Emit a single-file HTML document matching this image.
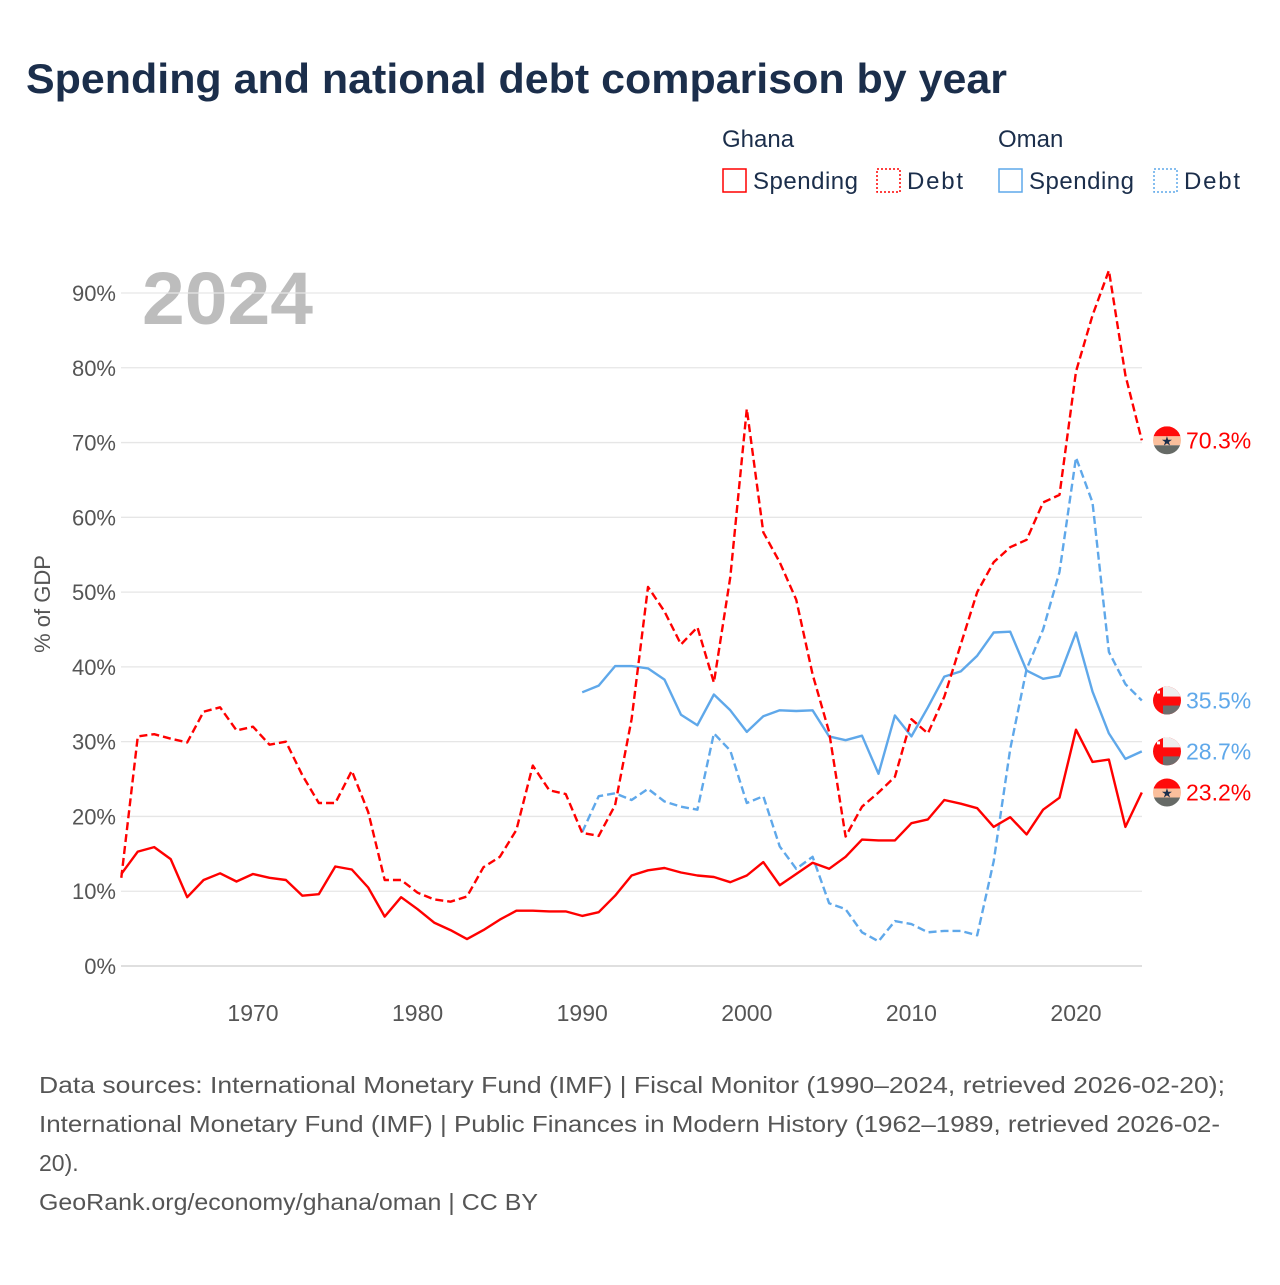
<!DOCTYPE html>
<html><head><meta charset="utf-8"><style>
body{margin:0;background:#fff;width:1280px;height:1280px;overflow:hidden;font-family:"Liberation Sans",sans-serif}
svg text{font-family:"Liberation Sans",sans-serif}
</style></head><body>
<svg id="c" width="1280" height="1280">
<text x="26" y="93" font-size="42" font-weight="bold" fill="#1b2e4b" textLength="981" lengthAdjust="spacingAndGlyphs">Spending and national debt comparison by year</text>
<g font-size="24" fill="#1b2e4b">
<text x="722" y="147">Ghana</text>
<text x="998" y="147">Oman</text>
<g><rect x="723" y="169" width="23" height="23" fill="none" stroke="#ff0000" stroke-width="1.5"/><text x="753" y="189" textLength="105">Spending</text></g>
<g><rect x="877" y="169" width="23" height="23" fill="none" stroke="#ff0000" stroke-width="1.5" stroke-dasharray="2,2"/><text x="907" y="189" textLength="56">Debt</text></g>
<g><rect x="999" y="169" width="23" height="23" fill="none" stroke="#5fa8ea" stroke-width="1.5"/><text x="1029" y="189" textLength="105">Spending</text></g>
<g><rect x="1154" y="169" width="23" height="23" fill="none" stroke="#5fa8ea" stroke-width="1.5" stroke-dasharray="2,2"/><text x="1184" y="189" textLength="56">Debt</text></g>
</g>
<text x="142" y="324" font-size="74" font-weight="bold" fill="#bdbdbd" textLength="171" lengthAdjust="spacingAndGlyphs">2024</text>
<text transform="translate(50,604) rotate(-90)" text-anchor="middle" font-size="22" fill="#555">% of GDP</text>
<g id="grid"></g><g id="series"></g><g id="labels"></g>
<g font-size="23" fill="#555">
<text x="39" y="1093" textLength="1186" lengthAdjust="spacingAndGlyphs">Data sources: International Monetary Fund (IMF) | Fiscal Monitor (1990–2024, retrieved 2026-02-20);</text>
<text x="39" y="1132" textLength="1181" lengthAdjust="spacingAndGlyphs">International Monetary Fund (IMF) | Public Finances in Modern History (1962–1989, retrieved 2026-02-</text>
<text x="39" y="1171">20).</text>
<text x="39" y="1210" textLength="499" lengthAdjust="spacingAndGlyphs">GeoRank.org/economy/ghana/oman | CC BY</text>
</g>
</svg>
<script>
const ghanaYears0=1962, omanYears0=1990;
const ghanaSpending=[12.3,15.3,15.9,14.3,9.2,11.5,12.4,11.3,12.3,11.8,11.5,9.4,9.6,13.3,12.9,10.5,6.6,9.2,7.6,5.8,4.8,3.6,4.8,6.2,7.4,7.4,7.3,7.3,6.7,7.2,9.4,12.1,12.8,13.1,12.5,12.1,11.9,11.2,12.1,13.9,10.8,12.3,13.8,13.0,14.6,16.9,16.8,16.8,19.1,19.6,22.2,21.7,21.1,18.6,19.9,17.6,20.9,22.5,31.6,27.3,27.6,18.6,23.2];
const ghanaDebt=[11.8,30.7,31.0,30.4,29.9,34.0,34.6,31.5,32.0,29.6,30.0,25.5,21.8,21.8,26.1,20.6,11.5,11.5,9.8,8.9,8.6,9.3,13.2,14.6,18.2,26.8,23.5,23.0,17.8,17.4,21.5,33,50.7,47.4,43,45.3,37.9,52,74.5,58,54,49,39,31.3,17.3,21.3,23.2,25.3,33,31.1,36,43,50,54,56,57,62,63,79.5,87,93,79,70.3];
const omanSpending=[36.6,37.5,40.1,40.1,39.8,38.3,33.6,32.2,36.3,34.2,31.3,33.4,34.2,34.1,34.2,30.7,30.2,30.8,25.7,33.5,30.7,34.6,38.7,39.4,41.5,44.6,44.7,39.5,38.4,38.8,44.6,36.7,31.1,27.7,28.7];
const omanDebt=[17.9,22.7,23.1,22.2,23.7,22,21.3,20.9,31.1,28.8,21.8,22.7,16,13,14.6,8.4,7.6,4.5,3.3,6.0,5.6,4.5,4.7,4.7,4.1,14,29,39.7,45,52.7,68,62,42,37.7,35.5];
const yTicks=[0,10,20,30,40,50,60,70,80,90];
const xTicks=[1970,1980,1990,2000,2010,2020];
const NS="http://www.w3.org/2000/svg";
const X=y=>253+(y-1970)*16.46, Y=v=>966-v*7.478;
function mk(t,a,p){const e=document.createElementNS(NS,t);for(const k in a)e.setAttribute(k,a[k]);p.appendChild(e);return e;}
const grid=document.getElementById('grid');
yTicks.forEach(v=>{
 const l=mk('line',{x1:121,x2:1142,y1:Y(v),y2:Y(v),stroke:v==0?'#ccc':'#e6e6e6','stroke-width':1.3},grid);
 
 
 const t=mk('text',{x:116,y:Y(v)+8,'text-anchor':'end','font-size':22,fill:'#555'},grid);t.textContent=v+'%';
 
 
});
xTicks.forEach(y=>{
 const t=mk('text',{x:X(y),y:1021,'text-anchor':'middle','font-size':23,fill:'#555'},grid);t.textContent=y;
 
 
});
const ser=document.getElementById('series');
function line(data,y0,color,dash,name){
 const pts=data.map((v,i)=>X(y0+i).toFixed(1)+','+Y(v).toFixed(1)).join(' ');
 const p=mk('polyline',{points:pts,fill:'none',stroke:color,'stroke-width':2.4,'stroke-linejoin':'round'},ser);
 if(dash)p.setAttribute('stroke-dasharray','8,4');
 
 
}
line(omanSpending,omanYears0,'#5fa8ea',false,'oman-spending-line');
line(omanDebt,omanYears0,'#5fa8ea',true,'oman-debt-line');
line(ghanaSpending,ghanaYears0,'#ff0000',false,'ghana-spending-line');
line(ghanaDebt,ghanaYears0,'#ff0000',true,'ghana-debt-line');
const lab=document.getElementById('labels');
const defs=mk('defs',{},lab);
const cp=mk('clipPath',{id:'cc'},defs);mk('circle',{cx:0,cy:0,r:14},cp);
function flag(kind,v,color,name){
 const cy=Y(v),g=mk('g',{transform:`translate(1167,${cy})`},lab);
 
 
 const c=mk('g',{'clip-path':'url(#cc)'},g);
 if(kind=='gh'){
  mk('rect',{x:-14,y:-14,width:28,height:10,fill:'#ff0a0a'},c);
  mk('rect',{x:-14,y:-4,width:28,height:9,fill:'#fbbf9c'},c);
  mk('rect',{x:-14,y:5,width:28,height:10,fill:'#666a66'},c);
  const s=mk('text',{x:0,y:5,'text-anchor':'middle','font-size':13,fill:'#1b2e4b'},c);s.textContent='★';
 }else{
  mk('rect',{x:-14,y:-14,width:28,height:28,fill:'#ff0a0a'},c);
  mk('rect',{x:-4,y:-14,width:18,height:10,fill:'#eeeeee'},c);
  mk('rect',{x:-4,y:5,width:18,height:10,fill:'#6e6e6e'},c);
  mk('rect',{x:-10,y:-10,width:3,height:3,fill:'#fff'},c);
 }
 const t=mk('text',{x:1186,y:cy+8,'font-size':23,fill:color},lab);t.textContent=v.toFixed(1)+'%';
 
 
}
flag('gh',ghanaDebt[ghanaDebt.length-1],'#ff0000','ghana-debt');
flag('om',omanDebt[omanDebt.length-1],'#5fa8ea','oman-debt');
flag('om',omanSpending[omanSpending.length-1],'#5fa8ea','oman-spending');
flag('gh',ghanaSpending[ghanaSpending.length-1],'#ff0000','ghana-spending');
</script>
</body></html>
